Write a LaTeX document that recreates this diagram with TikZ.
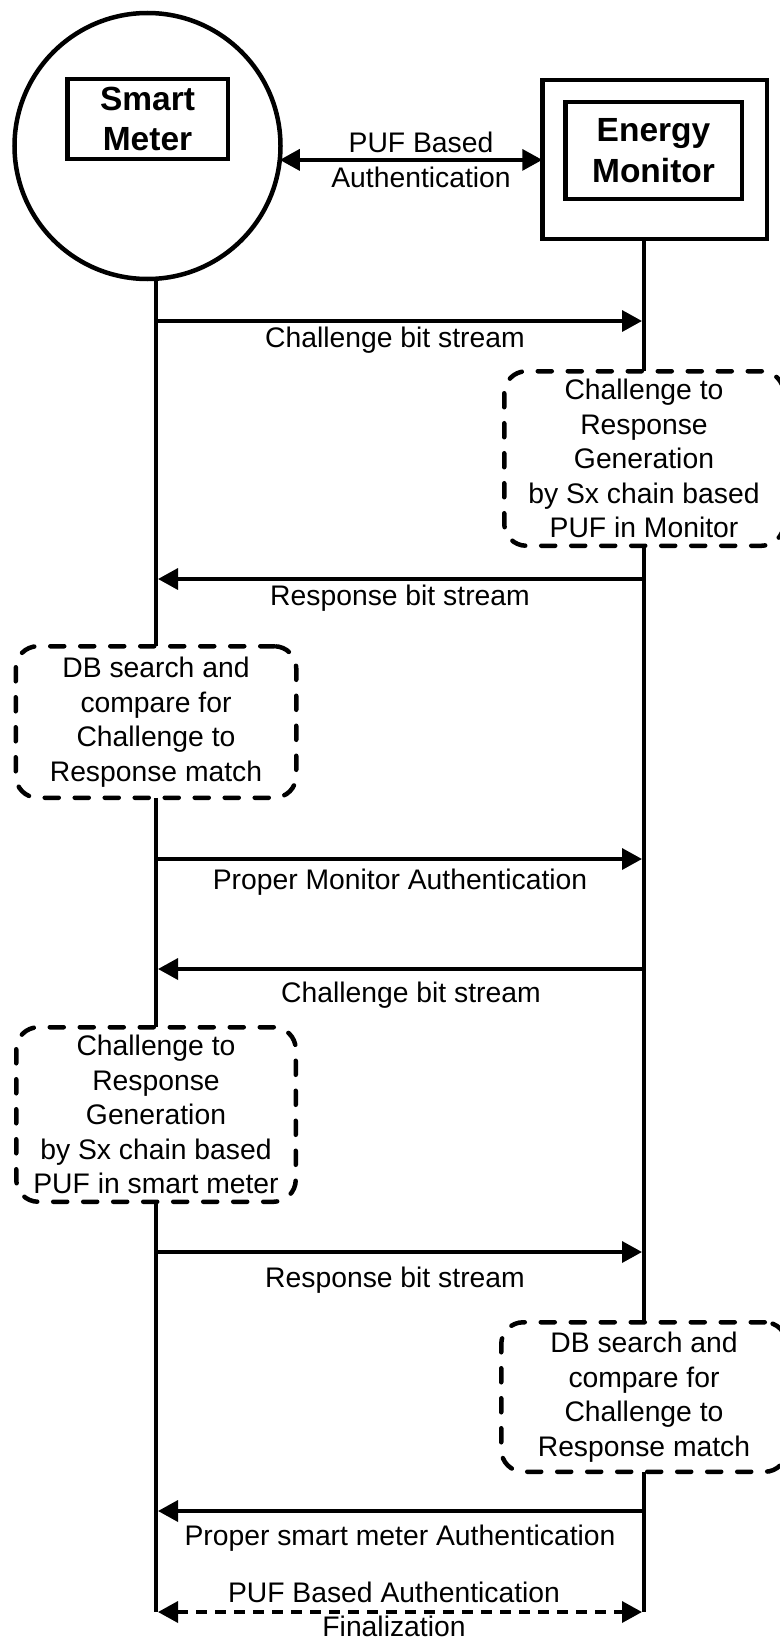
\documentclass[tikz,border=0pt]{standalone}
\usepackage{fontspec}
\setmainfont{Liberation Sans}
\usetikzlibrary{arrows.meta}

\begin{document}
\begin{tikzpicture}[x=1pt,y=-1pt,>={Triangle[length=20pt,width=21pt]},
        every node/.style={outer sep=0pt},
        ent/.style={rectangle,draw,line width=4.5pt,inner sep=0pt,align=center,
                    font=\fontsize{33.5}{40.5}\selectfont\bfseries},
        proc/.style={rectangle,draw,line width=4.5pt,rounded corners=22pt,
                     dash pattern=on 14pt off 16pt,line cap=round,
                     inner sep=0pt,align=center,
                     font=\fontsize{28.3}{34.5}\selectfont},
        life/.style={line width=4.5pt},
        msg/.style={line width=3.5pt,->,shorten >=2pt},
        txt/.style={font=\fontsize{28.3}{34.5}\selectfont,align=center,inner sep=0pt},
        lbl/.style={txt,text height=20pt,text depth=6pt}]
      \useasboundingbox (0,0) rectangle (779,1643);
      %% ── Parties (top) ─────────────────────────────────────
      \node[circle,draw,line width=4.5pt,minimum size=266pt,inner sep=0pt](sm) at(147.5,146){};
      \node[ent,minimum width=160.5pt,minimum height=79.5pt](smlbl) at(147.5,119){Smart\\Meter};
      \node[ent,minimum width=224.5pt,minimum height=158.5pt](em) at(654.5,159.5){};
      \node[ent,minimum width=176.5pt,minimum height=96.5pt](emlbl) at(653.5,150.5){Energy\\Monitor};
      %% ── Processing steps on the lifelines ─────────────────
      \node[proc,minimum width=279.5pt,minimum height=174.5pt](gen1) at(644,458.5)
            {Challenge to\\Response\\Generation\\by Sx chain based\\PUF in Monitor};
      \node[proc,minimum width=280.5pt,minimum height=151.5pt](cmp1) at(156,722)
            {DB search and\\compare for\\Challenge to\\Response match};
      \node[proc,minimum width=279.5pt,minimum height=174.5pt](gen2) at(156,1114.5)
            {Challenge to\\Response\\Generation\\by Sx chain based\\PUF in smart meter};
      \node[proc,minimum width=285.5pt,minimum height=149.5pt](cmp2) at(644,1397)
            {DB search and\\compare for\\Challenge to\\Response match};
      %% ── Message rows ──────────────────────────────────────
      \coordinate (m1) at(0,321);
      \coordinate (m2) at(0,579);
      \coordinate (m3) at(0,859);
      \coordinate (m4) at(0,969);
      \coordinate (m5) at(0,1252);
      \coordinate (m6) at(0,1511);
      \coordinate (smend) at(156,1612);
      \coordinate (emend) at(644,1612);
      %% ── Lifelines ─────────────────────────────────────────
      \draw[life] (sm.south -| cmp1.north)--(cmp1.north);
      \draw[life] (cmp1.south)--(gen2.north);
      \draw[life] (gen2.south)--(smend);
      \draw[life] (em.south -| gen1.north)--(gen1.north);
      \draw[life] (gen1.south)--(cmp2.north);
      \draw[life] (cmp2.south)--(emend);
      %% ── Arrow: PUF based authentication ───────────────────
      \draw[line width=3.5pt,<->] (sm.-6)--(sm.-6 -| em.west)
            node[txt,midway,xshift=10pt]{PUF Based\\Authentication};
      %% ── Arrows: challenge / response exchange ─────────────
      \draw[msg] (cmp1 |- m1)--(gen1 |- m1)
            node[lbl,midway,below=6pt,xshift=-5pt]{Challenge bit stream};
      \draw[msg] (gen1 |- m2)--(cmp1 |- m2)
            node[lbl,midway,below=6.5pt]{Response bit stream};
      \draw[msg] (cmp1 |- m3)--(gen1 |- m3)
            node[lbl,midway,below=10.5pt]{Proper Monitor Authentication};
      \draw[msg] (gen1 |- m4)--(cmp1 |- m4)
            node[lbl,midway,below=13.5pt,xshift=11pt]{Challenge bit stream};
      \draw[msg] (gen2 |- m5)--(cmp2 |- m5)
            node[lbl,midway,below=15pt,xshift=-5pt]{Response bit stream};
      \draw[msg] (cmp2 |- m6)--(gen2 |- m6)
            node[lbl,midway,below=14pt]{Proper smart meter Authentication};
      %% ── Arrow: finalization (dashed) ──────────────────────
      \draw[line width=3.5pt,<->,shorten <=2pt,shorten >=2pt,dash pattern=on 11pt off 8pt]
            (smend)--(emend)
            node[txt,midway,xshift=-6pt,yshift=2.5pt]{PUF Based Authentication\\Finalization};
    \end{tikzpicture}
\end{document}
